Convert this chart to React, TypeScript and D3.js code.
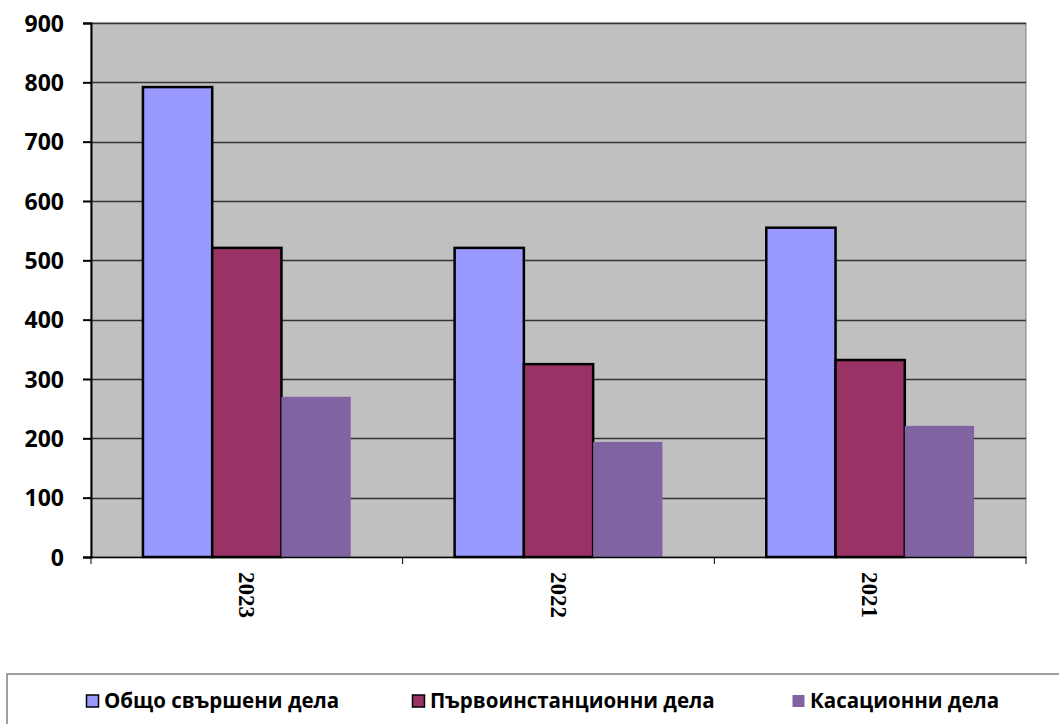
import * as d3 from "d3";
import React, { useRef, useEffect } from "react";

const years = ["2023", "2022", "2021"];
const seriesNames = ["Общо свършени дела", "Първоинстанционни дела", "Касационни дела"];
const totalCases = [792, 521, 555];
const firstInstance = [521, 325, 332];
const cassation = [270, 194, 221];
const yTicks = [0, 100, 200, 300, 400, 500, 600, 700, 800, 900];

const colors = ["#9999FF", "#993366", "#8064A2"];
const outlined = [true, true, false];

const width = 1059;
const height = 724;
const margin = { top: 23, right: 33, bottom: 167, left: 91 };

export default function App() {
  const ref = useRef(null);

  useEffect(() => {
    const svg = d3.select(ref.current);
    svg.selectAll("*").remove();

    const seriesValues = [totalCases, firstInstance, cassation];

    const x = d3
      .scaleBand()
      .domain(years)
      .range([margin.left, width - margin.right])
      .paddingInner(0)
      .paddingOuter(0);

    const inner = d3
      .scaleBand()
      .domain(seriesNames)
      .range([0, x.bandwidth()])
      .paddingOuter(0.75)
      .paddingInner(0);

    const y = d3
      .scaleLinear()
      .domain([0, 900])
      .range([height - margin.bottom, margin.top]);

    // plot background
    svg
      .append("rect")
      .attr("x", margin.left)
      .attr("y", margin.top)
      .attr("width", width - margin.left - margin.right)
      .attr("height", height - margin.top - margin.bottom)
      .attr("fill", "#C0C0C0")
      .attr("stroke", "#808080")
      .attr("stroke-width", 1);

    // gridlines
    svg
      .append("g")
      .selectAll("line")
      .data(yTicks.filter((t) => t > 0))
      .join("line")
      .attr("x1", margin.left)
      .attr("x2", width - margin.right)
      .attr("y1", (d) => Math.round(y(d)) + 0.5)
      .attr("y2", (d) => Math.round(y(d)) + 0.5)
      .attr("stroke", "#333")
      .attr("stroke-width", 1.3);

    // bars
    seriesValues.forEach((vals, si) => {
      svg
        .append("g")
        .selectAll("rect")
        .data(vals)
        .join("rect")
        .attr("x", (d, i) => (x(years[i]) as number) + (inner(seriesNames[si]) as number))
        .attr("y", (d) => y(d))
        .attr("width", inner.bandwidth())
        .attr("height", (d) => y(0) - y(d))
        .attr("fill", colors[si])
        .attr("stroke", outlined[si] ? "#000" : "none")
        .attr("stroke-width", 2.5);
    });

    // y axis
    const yAxis = svg
      .append("g")
      .attr("transform", `translate(${margin.left},0)`)
      .call(d3.axisLeft(y).tickValues(yTicks).tickSize(8).tickPadding(19).tickFormat(d3.format("d")));
    yAxis.select(".domain").attr("stroke", "#000").attr("stroke-width", 2);
    yAxis.selectAll(".tick line").attr("stroke", "#000").attr("stroke-width", 2);
    yAxis
      .selectAll(".tick text")
      .attr("fill", "#000")
      .attr("dy", "0.36em")
      .style("font-family", "'Open Sans', 'Noto Sans', sans-serif")
      .style("font-weight", "bold")
      .style("font-size", "23px");

    // x axis
    const xAxis = svg
      .append("g")
      .attr("transform", `translate(0,${height - margin.bottom})`)
      .call(d3.axisBottom(x).tickSize(0).tickFormat(() => ""));
    xAxis.select(".domain").attr("stroke", "#000").attr("stroke-width", 1.5);
    const boundaries = [margin.left, ...years.map((yr) => (x(yr) as number) + x.bandwidth())];
    xAxis
      .append("g")
      .selectAll("line")
      .data(boundaries)
      .join("line")
      .attr("x1", (d) => d)
      .attr("x2", (d) => d)
      .attr("y1", 0)
      .attr("y2", 7)
      .attr("stroke", "#000")
      .attr("stroke-width", 1);

    // year labels, rotated
    svg
      .append("g")
      .selectAll("text")
      .data(years)
      .join("text")
      .attr("transform", (d) => `translate(${(x(d) as number) + x.bandwidth() / 2 - 8},${height - margin.bottom + 15}) rotate(90)`)
      .attr("text-anchor", "start")
      .style("font-family", "'Liberation Serif', 'Times New Roman', serif")
      .style("font-weight", "bold")
      .style("font-size", "23px")
      .text((d) => d);

    // legend
    const legend = svg.append("g");
    legend
      .append("rect")
      .attr("x", 7)
      .attr("y", 674)
      .attr("width", 1070)
      .attr("height", 70)
      .attr("fill", "#fff")
      .attr("stroke", "#808080")
      .attr("stroke-width", 1.5);
    const legendX = [86, 412, 792];
    const items = legend
      .selectAll("g.item")
      .data(seriesNames)
      .join("g")
      .attr("class", "item")
      .attr("transform", (d, i) => `translate(${legendX[i]},701)`);
    items
      .append("rect")
      .attr("x", 0.5)
      .attr("y", -6)
      .attr("width", 12)
      .attr("height", 12)
      .attr("fill", (d, i) => colors[i])
      .attr("stroke", (d, i) => (outlined[i] ? "#000" : "none"))
      .attr("stroke-width", 1.5);
    items
      .append("text")
      .attr("x", 18)
      .attr("y", 0)
      .attr("dy", "0.36em")
      .style("font-family", "'Open Sans', 'Noto Sans', sans-serif")
      .style("font-weight", "bold")
      .style("font-size", "20.5px")
      .text((d) => d);
  }, []);

  return (
    <svg
      ref={ref}
      width={width}
      height={height}
      viewBox={`0 0 ${width} ${height}`}
      style={{ position: "absolute", left: 0, top: 0, display: "block", background: "#fff" }}
    />
  );
}
